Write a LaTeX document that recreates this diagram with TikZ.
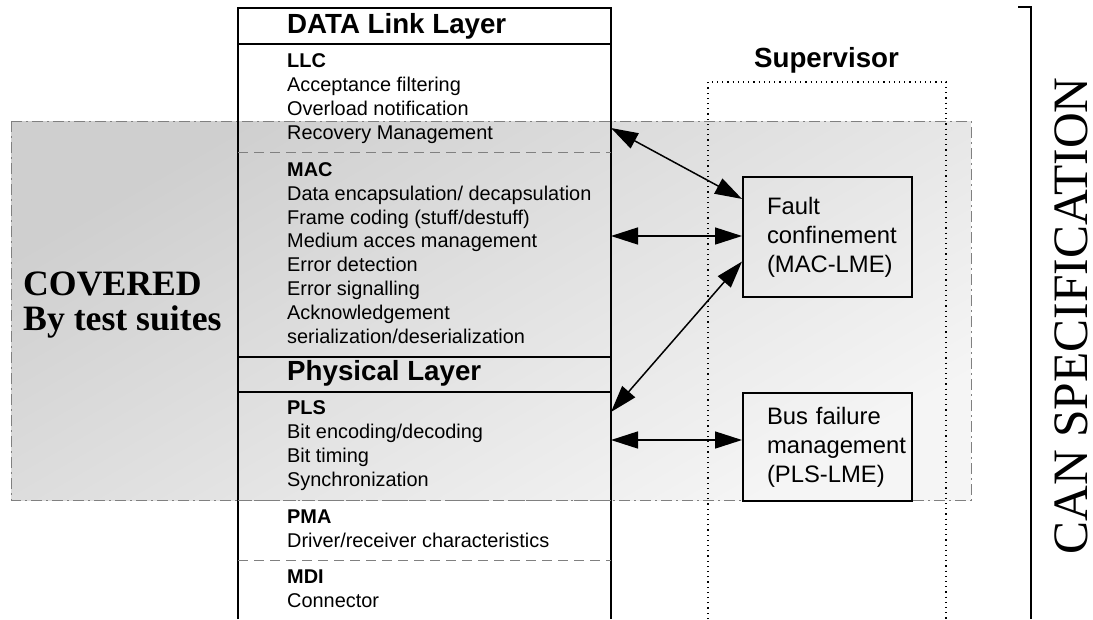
\documentclass[tikz,border=0pt]{standalone}
\usepackage{fontspec}
\setmainfont{Liberation Sans}
\newfontfamily\timesfont{Liberation Serif}
\usetikzlibrary{arrows.meta}

\begin{document}
\begin{tikzpicture}[x=1pt, y=-1pt,
  layertext/.style={anchor=base west, align=left, inner sep=0pt, font=\fontsize{19.9}{23.8}\selectfont},
  layertitle/.style={anchor=base west, inner sep=0pt, font=\fontsize{27.7}{33}\selectfont\bfseries},
  lmebox/.style={draw, line width=2pt, text width=121pt, inner xsep=24pt, inner ysep=0pt, align=left, minimum height=#1, font=\fontsize{23.8}{29}\selectfont, execute at begin node={\hyphenpenalty=10000 \exhyphenpenalty=10000 }},
  sublayer/.style={gray, dash pattern=on 10pt off 6pt, line width=1pt},
  link/.style={{Triangle[length=27pt,width=17pt]}-{Triangle[length=27pt,width=17pt]}, line width=1.5pt}]

\useasboundingbox (0,0) rectangle (1093,619);

% area covered by the test suites
\draw [gray, line width=1pt, dash pattern=on 11pt off 4pt on 2pt off 4pt, top color=black!19, bottom color=black!4, shading angle=30] (11,121) rectangle (971,500);

% layer column
\draw [line width=2pt] (238,619) -- (238,8) -- (611,8) -- (611,619);
\draw [line width=2pt] (238,44) -- (611,44);
\draw [line width=2pt] (238,357) -- (611,357);
\draw [line width=2pt] (238,392) -- (611,392);
\draw [sublayer] (238,152) -- (611,152);
\draw [sublayer] (238,500) -- (611,500);
\draw [sublayer] (238,560) -- (611,560);

% multi-line nodes: base is the last line
\node [layertitle] (dll) at (287,33) {DATA Link Layer};
\node [layertext] (llc) at (287,139) {\textbf{LLC}\\Acceptance filtering\\Overload notification\\Recovery Management};
\node [layertext] (mac) at (287,343) {\textbf{MAC}\\Data encapsulation/ decapsulation\\Frame coding (stuff/destuff)\\Medium acces management\\Error detection\\Error signalling\\Acknowledgement\\serialization/deserialization};
\node [layertitle] (phy) at (287,380) {Physical Layer};
\node [layertext] (pls) at (287,486) {\textbf{PLS}\\Bit encoding/decoding\\Bit timing\\Synchronization};
\node [layertext] (pma) at (287,547) {\textbf{PMA}\\Driver/receiver characteristics};
\node [layertext] (mdi) at (287,607) {\textbf{MDI}\\Connector};

% supervisor
\draw [line width=1.2pt, dash pattern=on 1.2pt off 4pt] (708,619) -- (708,82) -- (946,82) -- (946,619);
\node [anchor=base, inner sep=0pt, font=\fontsize{27.7}{33}\selectfont\bfseries] (sup) at (826.5,67) {Supervisor};

\node [lmebox=120pt] (fault) at (827.5,237) {Fault\\confinement\\(MAC-LME)};
\node [lmebox=108pt] (bus) at (827.5,447) {Bus failure\\management\\(PLS-LME)};

\coordinate (llcR) at (611,128);
\coordinate (macR) at (611,236);
\coordinate (plsT) at (611,412);
\coordinate (plsR) at (611,440);

\draw [link] (llcR) -- (fault.156);
\draw [link] (macR) -- (macR -| fault.west);
\draw [link] (plsT) -- (fault.196);
\draw [link] (plsR) -- (plsR -| bus.west);

\node [anchor=base west, align=left, inner sep=0pt, font=\timesfont\bfseries\fontsize{35.7}{35}\selectfont] (covered) at (23,330) {COVERED\\By test suites};

% CAN specification
\draw [line width=1.5pt] (1018,7) -- (1031,7) -- (1031,619);
\node [rotate=90, inner sep=0pt, font=\timesfont\fontsize{49.5}{50}\selectfont] (canspec) at (1071.5,316) {CAN SPECIFICATION};

\end{tikzpicture}
\end{document}
